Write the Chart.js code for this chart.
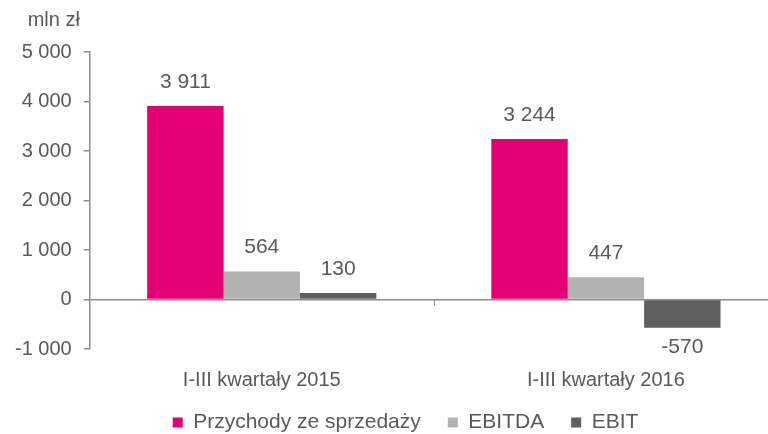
<!DOCTYPE html>
<html>
<head>
<meta charset="utf-8">
<script src="https://cdn.jsdelivr.net/npm/chart.js@4"></script>
<style>
  html, body { margin: 0; padding: 0; background: #fff; overflow: hidden; }
  #wrap { width: 768px; height: 434px; overflow: hidden; }
</style>
</head>
<body>
<div id="wrap"><canvas id="chart" width="790" height="434"></canvas></div>
<script>
const categories = ["I-III kwartały 2015", "I-III kwartały 2016"];
const seriesNames = ["Przychody ze sprzedaży", "EBITDA", "EBIT"];
const revenue = [3911, 3244];
const ebitda = [564, 447];
const ebit = [130, -570];
const seriesColors = ["#E20074", "#B2B2B2", "#5F5F5F"];
const unitLabel = "mln zł";

const textColor = "#595959";
const axisColor = "#8C8C8C";
const fontFamily = "'Liberation Sans', Arial, sans-serif";
const axisFont = { size: 20, family: fontFamily };

function fmt(v) {
  const s = Math.abs(v).toString().replace(/\B(?=(\d{3})+(?!\d))/g, " ");
  return (v < 0 ? "-" : "") + s;
}

// value labels above / below each bar
const valueLabels = {
  id: "valueLabels",
  afterDatasetsDraw(chart) {
    const ctx = chart.ctx;
    ctx.save();
    ctx.font = "21px " + fontFamily;
    ctx.fillStyle = textColor;
    ctx.textAlign = "center";
    ctx.textBaseline = "middle";
    chart.data.datasets.forEach((ds, i) => {
      chart.getDatasetMeta(i).data.forEach((bar, j) => {
        const v = ds.data[j];
        const y = v >= 0 ? bar.y - 24 : bar.y + 19;
        ctx.fillText(fmt(v), bar.x, y);
      });
    });
    ctx.restore();
  }
};

// legend sits closer to the category labels than chart.js would put it
const legendShift = {
  id: "legendShift",
  afterLayout(chart) {
    chart.legend.top -= 18;
    chart.legend.left += 30;
  }
};

// unit label + small tick between categories on the zero line
const extras = {
  id: "extras",
  afterDraw(chart) {
    const ctx = chart.ctx;
    const area = chart.chartArea;
    const y0 = chart.scales.y.getPixelForValue(0);
    const xs = chart.scales.x;
    ctx.save();
    ctx.strokeStyle = axisColor;
    ctx.lineWidth = 1;
    for (let i = 1; i < categories.length; i++) {
      const mx = (xs.getPixelForValue(i - 1) + xs.getPixelForValue(i)) / 2;
      ctx.beginPath();
      ctx.moveTo(Math.round(mx) + 0.5, y0);
      ctx.lineTo(Math.round(mx) + 0.5, y0 + 6);
      ctx.stroke();
    }
    ctx.font = "20px " + fontFamily;
    ctx.fillStyle = textColor;
    ctx.textAlign = "left";
    ctx.textBaseline = "middle";
    ctx.fillText(unitLabel, area.left - 62, area.top - 32);
    ctx.restore();
  }
};

new Chart(document.getElementById("chart"), {
  type: "bar",
  data: {
    labels: categories,
    datasets: [
      { label: seriesNames[0], data: revenue, backgroundColor: seriesColors[0] },
      { label: seriesNames[1], data: ebitda, backgroundColor: seriesColors[1] },
      { label: seriesNames[2], data: ebit, backgroundColor: seriesColors[2] }
    ]
  },
  options: {
    responsive: false,
    animation: false,
    datasets: { bar: { categoryPercentage: 0.666, barPercentage: 1.0 } },
    layout: { padding: { top: 52, left: 3, right: 12, bottom: 0 } },
    plugins: {
      legend: {
        position: "bottom",
        maxHeight: 31,
        labels: {
          boxWidth: 10,
          boxHeight: 10,
          padding: 27,
          color: textColor,
          font: { size: 21, family: fontFamily }
        }
      },
      tooltip: { enabled: false }
    },
    scales: {
      x: {
        grid: { display: false },
        border: { display: false },
        ticks: { color: textColor, font: axisFont, padding: 11 }
      },
      y: {
        min: -1000,
        max: 5000,
        ticks: {
          stepSize: 1000,
          color: textColor,
          padding: 12,
          font: axisFont,
          callback: v => fmt(v)
        },
        grid: {
          drawOnChartArea: true,
          drawTicks: true,
          tickLength: 6,
          tickColor: axisColor,
          color: c => (c.tick && c.tick.value === 0 ? axisColor : "rgba(0,0,0,0)"),
          lineWidth: 1.5
        },
        border: { display: true, color: axisColor, width: 1.5 }
      }
    }
  },
  plugins: [valueLabels, legendShift, extras]
});
</script>
</body>
</html>
